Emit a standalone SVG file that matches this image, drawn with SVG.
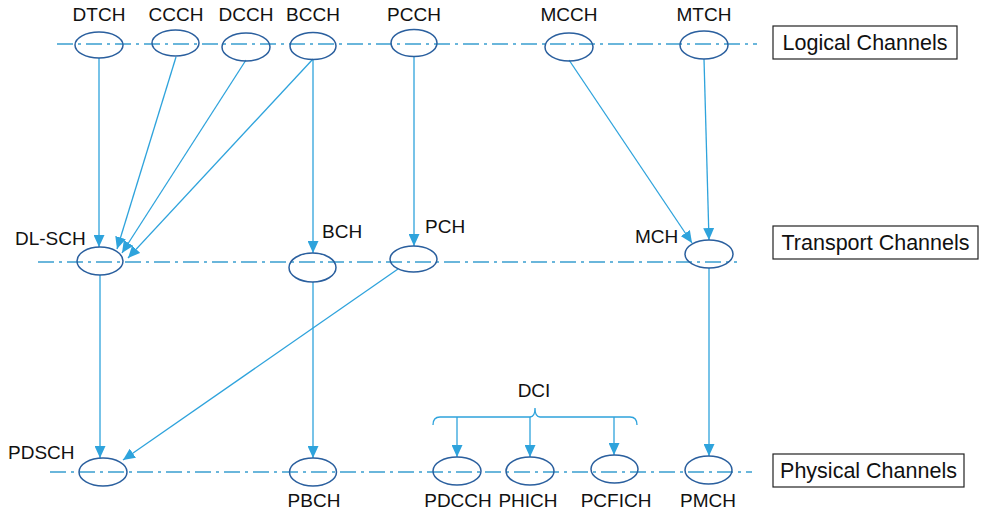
<svg xmlns="http://www.w3.org/2000/svg" width="988" height="515" viewBox="0 0 988 515">
<style>
text{font-family:"Liberation Sans",Arial,sans-serif;font-size:19px;fill:#111}
.lbl{font-size:21.5px}
.axis{stroke:#3a9fd0;stroke-width:1.3;stroke-dasharray:16 5 3 5;fill:none}
.node{fill:none;stroke:#2a5f9e;stroke-width:1.5}
.box{fill:#fff;stroke:#222;stroke-width:1.2}
.edge{stroke:#2ea3dc;stroke-width:1.3;fill:none;marker-end:url(#ah)}
.brace{stroke:#2ea3dc;stroke-width:1.3;fill:none}
</style>
<defs>
<marker id="ah" viewBox="0 0 12 11" refX="12" refY="5.5" markerWidth="12" markerHeight="11" markerUnits="userSpaceOnUse" orient="auto">
<path d="M0,0 L12,5.5 L0,11 Z" fill="#2ea3dc"/>
</marker>
</defs>
<rect width="988" height="515" fill="#fff"/>
<g id="axes">
<line class="axis" x1="57" y1="44" x2="757" y2="44"/>
<line class="axis" x1="38" y1="262" x2="737" y2="262"/>
<line class="axis" x1="50" y1="472" x2="752" y2="472"/>
</g>
<g id="layer-labels">
<g id="logical-box"><rect class="box" x="773" y="26" width="184" height="33"/><text class="lbl" x="865" y="50" text-anchor="middle">Logical Channels</text></g>
<g id="transport-box"><rect class="box" x="773" y="226" width="205" height="33"/><text class="lbl" x="875.5" y="250" text-anchor="middle">Transport Channels</text></g>
<g id="physical-box"><rect class="box" x="773" y="454" width="191" height="33"/><text class="lbl" x="868.5" y="478" text-anchor="middle">Physical Channels</text></g>
</g>
<g id="connectors">
<line class="edge" x1="99" y1="58" x2="99" y2="247"/>
<line class="edge" x1="176" y1="57" x2="117" y2="249"/>
<line class="edge" x1="246" y1="60" x2="122" y2="253"/>
<line class="edge" x1="313" y1="59" x2="128" y2="258"/>
<line class="edge" x1="313" y1="59" x2="313" y2="253"/>
<line class="edge" x1="414" y1="57" x2="414" y2="246"/>
<line class="edge" x1="569" y1="60" x2="692" y2="243"/>
<line class="edge" x1="704" y1="59" x2="709" y2="240"/>
<line class="edge" x1="100" y1="275" x2="100" y2="458"/>
<line class="edge" x1="313" y1="282" x2="313" y2="458"/>
<line class="edge" x1="398" y1="269" x2="123" y2="460"/>
<line class="edge" x1="709" y1="268" x2="709" y2="456"/>
<path class="brace" d="M433,425 Q433,417 440,417 L530,417 Q535,417 535,408 Q535,417 540,417 L630,417 Q637,417 637,425"/>
<line class="edge" x1="457" y1="417" x2="457" y2="457"/>
<line class="edge" x1="530" y1="417" x2="530" y2="457"/>
<line class="edge" x1="614" y1="417" x2="614" y2="455"/>
</g>
<g id="DTCH"><ellipse class="node" cx="99" cy="45" rx="24" ry="13"/><text x="99" y="21" text-anchor="middle">DTCH</text></g>
<g id="CCCH"><ellipse class="node" cx="175.5" cy="43" rx="23.5" ry="13"/><text x="176" y="21" text-anchor="middle">CCCH</text></g>
<g id="DCCH"><ellipse class="node" cx="246" cy="47" rx="24" ry="14"/><text x="246" y="21" text-anchor="middle">DCCH</text></g>
<g id="BCCH"><ellipse class="node" cx="313" cy="46" rx="23" ry="13.5"/><text x="313" y="21" text-anchor="middle">BCCH</text></g>
<g id="PCCH"><ellipse class="node" cx="414" cy="43" rx="23" ry="13.5"/><text x="414" y="21" text-anchor="middle">PCCH</text></g>
<g id="MCCH"><ellipse class="node" cx="569" cy="47" rx="24" ry="14"/><text x="569" y="21" text-anchor="middle">MCCH</text></g>
<g id="MTCH"><ellipse class="node" cx="704" cy="45" rx="24" ry="14"/><text x="704" y="21" text-anchor="middle">MTCH</text></g>
<g id="DL-SCH"><ellipse class="node" cx="100" cy="261" rx="23" ry="14"/><text x="15" y="245">DL-SCH</text></g>
<g id="BCH"><ellipse class="node" cx="312.5" cy="267.5" rx="23.5" ry="14.5"/><text x="322" y="238">BCH</text></g>
<g id="PCH"><ellipse class="node" cx="413.5" cy="259" rx="23.5" ry="13"/><text x="425" y="233">PCH</text></g>
<g id="MCH"><ellipse class="node" cx="709" cy="254" rx="24" ry="14"/><text x="635" y="243">MCH</text></g>
<g id="PDSCH"><ellipse class="node" cx="103" cy="472" rx="24" ry="14"/><text x="8" y="459">PDSCH</text></g>
<g id="PBCH"><ellipse class="node" cx="313" cy="472" rx="23.5" ry="14"/><text x="314" y="507" text-anchor="middle">PBCH</text></g>
<g id="PDCCH"><ellipse class="node" cx="457" cy="471" rx="24" ry="14"/><text x="458" y="507" text-anchor="middle">PDCCH</text></g>
<g id="PHICH"><ellipse class="node" cx="530" cy="471" rx="24" ry="14"/><text x="528" y="507" text-anchor="middle">PHICH</text></g>
<g id="PCFICH"><ellipse class="node" cx="614.5" cy="469" rx="23.5" ry="14"/><text x="616" y="507" text-anchor="middle">PCFICH</text></g>
<g id="PMCH"><ellipse class="node" cx="708.5" cy="470" rx="23.5" ry="14"/><text x="708" y="507" text-anchor="middle">PMCH</text></g>
<g id="DCI"><text x="534" y="397" text-anchor="middle">DCI</text></g>
</svg>
